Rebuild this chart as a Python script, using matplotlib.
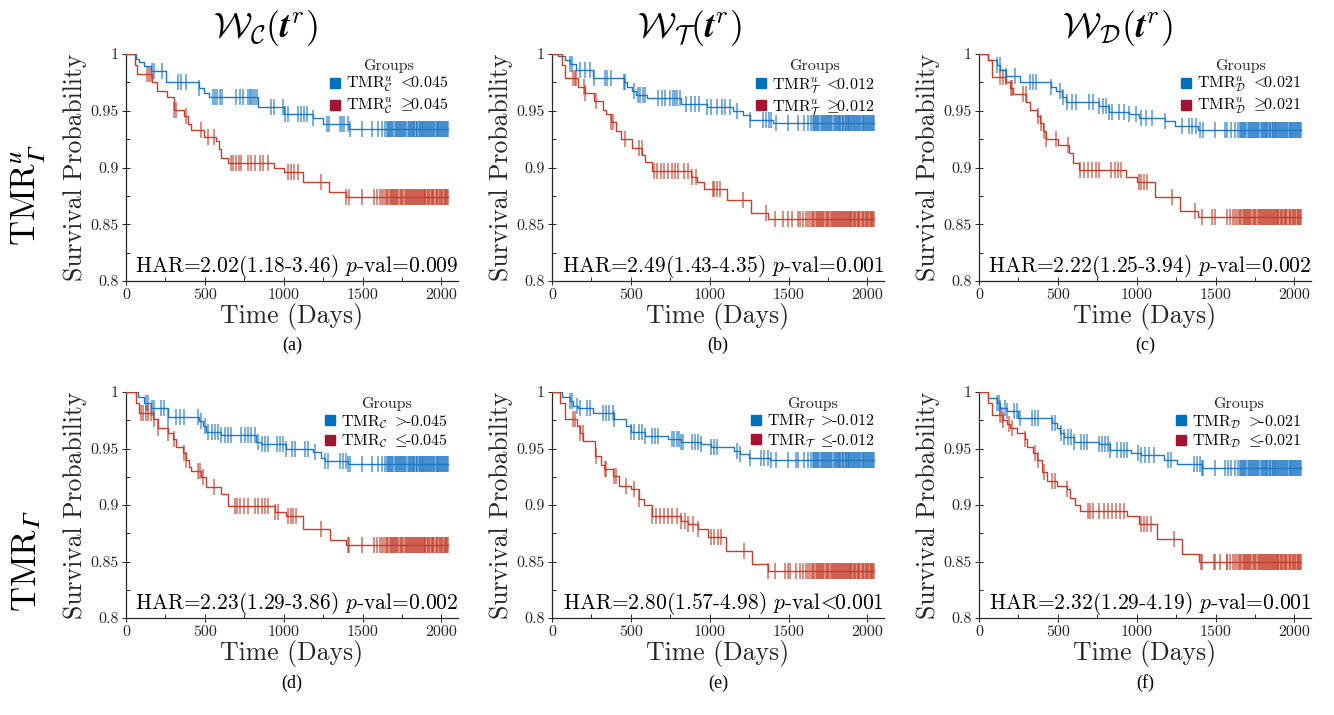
#!/usr/bin/env python3
"""Kaplan-Meier survival curves, 2x3 panels (TMR groups per weighting)."""
import numpy as np
import matplotlib
matplotlib.use("Agg")
import matplotlib.pyplot as plt
from matplotlib.lines import Line2D

plt.rcParams["font.family"] = "cmr10"
plt.rcParams["mathtext.fontset"] = "cm"
plt.rcParams["axes.unicode_minus"] = False
plt.rcParams["axes.formatter.use_mathtext"] = True

# ---- data ----
# late follow-up censoring, common to all panels
TAIL_BLUE = [1423, 1498, 1561, 1597, 1622, 1641, 1652, 1660, 1668, 1676, 1683, 1689, 1696, 1703,
             1712, 1719, 1725, 1731, 1738, 1744, 1752, 1758, 1763, 1771, 1778, 1785, 1794, 1802,
             1809, 1814, 1818, 1824, 1829, 1836, 1842, 1847, 1855, 1861, 1866, 1874, 1879, 1883,
             1889, 1895, 1902, 1908, 1914, 1921, 1927, 1933, 1940, 1946, 1952, 1961, 1969, 1974,
             1978, 1983, 1988, 1996, 2001, 2007, 2015, 2024, 2029, 2033, 2041]
TAIL_RED = [1412, 1495, 1572, 1590, 1611, 1622, 1633, 1648, 1655, 1661, 1672, 1679, 1684, 1693,
            1700, 1706, 1715, 1721, 1727, 1738, 1746, 1751, 1757, 1768, 1774, 1779, 1787, 1793,
            1798, 1806, 1815, 1820, 1824, 1833, 1838, 1842, 1851, 1856, 1862, 1871, 1876, 1880,
            1889, 1894, 1898, 1909, 1917, 1921, 1926, 1937, 1941, 1946, 1955, 1964, 1969, 1973,
            1984, 1992, 1998, 2003, 2011, 2020, 2025, 2029, 2034, 2040]

# (a)
A_BLUE_T = [0, 61, 83, 114, 157, 252, 464, 496, 528, 835, 1004, 1184, 1248, 1417, 2040]
A_BLUE_S = [1, 0.996, 0.993, 0.989, 0.985, 0.975, 0.970, 0.966, 0.962, 0.953, 0.947, 0.944, 0.938, 0.934, 0.934]
A_BLUE_C = [165, 180, 230, 330, 350, 380, 465, 550, 565, 580, 595, 610, 700, 720, 740, 775, 785,
            795, 805, 815, 830, 920, 940, 995, 1005, 1025, 1090, 1110, 1130, 1150, 1185, 1275,
            1290, 1355, 1370, 1385, 1405]
A_RED_T = [0, 55, 72, 167, 199, 263, 305, 369, 390, 411, 496, 570, 590, 602, 644, 941, 1004, 1121, 1290, 1396, 2040]
A_RED_S = [1, 0.99, 0.982, 0.975, 0.967, 0.962, 0.951, 0.945, 0.938, 0.933, 0.927, 0.923, 0.916, 0.908, 0.904,
           0.9, 0.896, 0.887, 0.878, 0.874, 0.874]
A_RED_C = [135, 145, 157, 305, 315, 380, 475, 520, 560, 665, 680, 700, 715, 730, 775, 790, 815, 850,
           870, 900, 1025, 1045, 1065, 1090, 1237, 1396]

# (b)
B_BLUE_T = [0, 41, 83, 114, 155, 259, 456, 477, 508, 530, 601, 819, 985, 1150, 1212, 1254, 1399, 2040]
B_BLUE_S = [1, 0.998, 0.995, 0.991, 0.986, 0.979, 0.975, 0.971, 0.967, 0.964, 0.961, 0.956, 0.953, 0.950,
            0.946, 0.942, 0.939, 0.939]
B_BLUE_C = [114, 124, 180, 210, 238, 269, 335, 350, 373, 458, 466, 520, 545, 560, 575, 590, 675, 700,
            715, 748, 765, 780, 795, 810, 852, 880, 905, 933, 985, 1005, 1048, 1075, 1100, 1130,
            1171, 1254, 1340, 1360, 1375, 1390]
B_RED_T = [0, 62, 83, 166, 207, 269, 321, 340, 373, 404, 435, 508, 570, 591, 632, 881, 922, 964, 1109,
           1264, 1368, 2040]
B_RED_S = [1, 0.99, 0.979, 0.971, 0.966, 0.959, 0.951, 0.947, 0.94, 0.932, 0.925, 0.917, 0.911, 0.905,
           0.897, 0.892, 0.887, 0.881, 0.871, 0.86, 0.855, 0.855]
B_RED_C = [135, 145, 155, 200, 210, 280, 375, 385, 466, 552, 568, 645, 665, 690, 712, 735, 760, 780,
           798, 840, 862, 890, 912, 1018, 1030, 1045, 1067, 1212, 1357, 1465, 1520, 1560]

# (c)
C_BLUE_T = [0, 59, 111, 132, 174, 258, 458, 490, 527, 550, 762, 825, 951, 1014, 1182, 1245, 1391, 2040]
C_BLUE_S = [1, 0.995, 0.99, 0.986, 0.981, 0.975, 0.971, 0.967, 0.962, 0.958, 0.954, 0.949, 0.947, 0.944,
            0.941, 0.937, 0.933, 0.933]
C_BLUE_C = [115, 130, 174, 227, 321, 345, 363, 458, 512, 535, 560, 590, 615, 700, 725, 762, 785, 805,
            825, 846, 890, 920, 951, 995, 1030, 1060, 1098, 1182, 1290, 1330, 1352, 1375, 1402, 1570]
C_RED_T = [0, 59, 80, 174, 195, 216, 300, 321, 365, 384, 405, 425, 499, 573, 594, 636, 930, 1003, 1119,
           1276, 1391, 2040]
C_RED_S = [1, 0.995, 0.98, 0.975, 0.97, 0.965, 0.958, 0.951, 0.945, 0.939, 0.932, 0.925, 0.92, 0.913,
           0.904, 0.898, 0.892, 0.887, 0.874, 0.862, 0.856, 0.856]
C_RED_C = [135, 150, 170, 200, 212, 280, 298, 375, 392, 410, 425, 489, 562, 640, 665, 690, 715, 740,
           762, 838, 860, 880, 898, 1015, 1030, 1048, 1066, 1223, 1370, 1475]

# (d)
D_BLUE_T = [0, 74, 116, 159, 265, 466, 487, 508, 603, 825, 857, 1016, 1185, 1238, 1259, 1407, 2040]
D_BLUE_S = [1, 0.996, 0.99, 0.986, 0.978, 0.974, 0.97, 0.965, 0.962, 0.956, 0.954, 0.95, 0.947, 0.942,
            0.939, 0.936, 0.936]
D_BLUE_C = [127, 138, 162, 178, 225, 243, 268, 320, 345, 370, 458, 476, 500, 519, 545, 565, 582, 605,
            625, 645, 667, 732, 755, 775, 795, 815, 836, 860, 880, 899, 955, 975, 995, 1016, 1050,
            1069, 1135, 1153, 1196, 1262, 1280, 1358, 1375, 1392, 1407]
D_RED_T = [0, 63, 85, 169, 201, 265, 296, 317, 360, 381, 402, 413, 476, 508, 603, 646, 942, 1016, 1122,
           1291, 1397, 2040]
D_RED_S = [1, 0.99, 0.981, 0.976, 0.968, 0.964, 0.958, 0.951, 0.946, 0.94, 0.934, 0.93, 0.925, 0.916,
           0.91, 0.899, 0.894, 0.89, 0.879, 0.869, 0.865, 0.865]
D_RED_C = [95, 110, 125, 140, 159, 180, 201, 265, 307, 370, 381, 455, 470, 487, 561, 690, 705, 725,
           745, 772, 815, 835, 860, 880, 899, 942, 963, 1028, 1045, 1062, 1079, 1238, 1407]

# (e)
E_BLUE_T = [0, 62, 114, 135, 166, 260, 395, 467, 498, 592, 737, 820, 945, 1007, 1153, 1194, 1246, 1381, 2040]
E_BLUE_S = [1, 0.996, 0.992, 0.988, 0.986, 0.981, 0.976, 0.97, 0.965, 0.961, 0.958, 0.956, 0.954, 0.951,
            0.948, 0.945, 0.942, 0.94, 0.94]
E_BLUE_C = [114, 125, 158, 175, 220, 238, 325, 345, 363, 386, 395, 500, 518, 552, 572, 592, 635, 655,
            675, 760, 775, 790, 805, 820, 831, 885, 905, 925, 945, 1009, 1030, 1049, 1175, 1194,
            1256, 1322, 1345, 1368, 1391, 1547]
E_RED_T = [0, 52, 83, 156, 177, 197, 270, 312, 332, 384, 426, 498, 550, 582, 633, 820, 862, 924, 987,
           1101, 1267, 1371, 2040]
E_RED_S = [1, 0.99, 0.976, 0.97, 0.964, 0.957, 0.943, 0.935, 0.932, 0.926, 0.917, 0.914, 0.905, 0.9,
           0.89, 0.886, 0.883, 0.879, 0.872, 0.859, 0.848, 0.842, 0.842]
E_RED_C = [135, 145, 180, 195, 280, 335, 343, 395, 405, 467, 519, 550, 635, 660, 685, 710, 735, 760,
           790, 820, 843, 865, 895, 924, 1009, 1030, 1050, 1070, 1215, 1371, 1475, 1510, 1545]

# (f)
F_BLUE_T = [0, 59, 112, 134, 176, 250, 462, 494, 515, 536, 600, 759, 833, 961, 1024, 1173, 1258, 1417, 2040]
F_BLUE_S = [1, 0.995, 0.99, 0.986, 0.983, 0.977, 0.973, 0.968, 0.964, 0.96, 0.956, 0.954, 0.949, 0.946,
            0.944, 0.94, 0.936, 0.933, 0.933]
F_BLUE_C = [112, 125, 134, 165, 176, 220, 240, 261, 338, 355, 377, 462, 484, 518, 540, 565, 585, 600,
            645, 665, 685, 762, 780, 800, 815, 833, 878, 900, 920, 940, 1005, 1030, 1055, 1080,
            1109, 1196, 1215, 1366, 1385, 1400, 1417, 1576]
F_RED_T = [0, 59, 81, 155, 176, 197, 240, 293, 303, 340, 367, 399, 430, 494, 558, 579, 611, 643, 940,
           1014, 1130, 1290, 1396, 2040]
F_RED_S = [1, 0.99, 0.98, 0.975, 0.972, 0.968, 0.964, 0.958, 0.951, 0.946, 0.94, 0.929, 0.921, 0.917,
           0.914, 0.906, 0.9, 0.895, 0.89, 0.883, 0.87, 0.857, 0.85, 0.85]
F_RED_C = [134, 145, 155, 190, 208, 293, 358, 377, 409, 462, 484, 558, 688, 705, 725, 760, 790, 820,
           845, 870, 895, 918, 1025, 1045, 1068, 1088, 1236, 1406, 1491, 1530, 1570]

SUBSETS = [r"\mathcal{C}", r"\mathcal{T}", r"\mathcal{D}"]
THRESH = ["0.045", "0.012", "0.021"]
HAR_TEXT = [
    r"HAR=2.02(1.18-3.46) $p$-val=0.009",
    r"HAR=2.49(1.43-4.35) $p$-val=0.001",
    r"HAR=2.22(1.25-3.94) $p$-val=0.002",
    r"HAR=2.23(1.29-3.86) $p$-val=0.002",
    r"HAR=2.80(1.57-4.98) $p$-val$\!<\!\!$0.001",
    r"HAR=2.32(1.29-4.19) $p$-val=0.001",
]
PANEL_TAGS = ["(a)", "(b)", "(c)", "(d)", "(e)", "(f)"]

CURVES = [
    (A_BLUE_T, A_BLUE_S, A_BLUE_C, A_RED_T, A_RED_S, A_RED_C),
    (B_BLUE_T, B_BLUE_S, B_BLUE_C, B_RED_T, B_RED_S, B_RED_C),
    (C_BLUE_T, C_BLUE_S, C_BLUE_C, C_RED_T, C_RED_S, C_RED_C),
    (D_BLUE_T, D_BLUE_S, D_BLUE_C, D_RED_T, D_RED_S, D_RED_C),
    (E_BLUE_T, E_BLUE_S, E_BLUE_C, E_RED_T, E_RED_S, E_RED_C),
    (F_BLUE_T, F_BLUE_S, F_BLUE_C, F_RED_T, F_RED_S, F_RED_C),
]

BLUE_LINE = "#1f78c6"
RED_LINE = "#c4402c"
BLUE_MARK = "#0072BD"
RED_MARK = "#A2142F"
AX_COL = "#262626"


def step_value(t, s, x):
    idx = np.searchsorted(np.asarray(t), np.asarray(x), side="right") - 1
    return np.asarray(s)[idx]


def km(ax, t, s, cens, color):
    ax.step(t, s, where="post", color=color, lw=1.0, zorder=3)
    cy = step_value(t, s, cens)
    ax.plot(cens, cy, ls="none", marker="|", ms=11, mew=1.2, color=color, alpha=0.7, zorder=2)


fig = plt.figure(figsize=(13.34, 7.15), dpi=100)
W, H = 1334, 715
col_left = [126, 552, 979]
ax_w = 332
rows = [(54, 281), (392, 618)]

for i in range(6):
    r, c = divmod(i, 3)
    top, bot = rows[r]
    ax = fig.add_axes([col_left[c] / W, 1 - bot / H, ax_w / W, (bot - top) / H])
    bt, bs, bc, rt, rs, rc = CURVES[i]
    km(ax, bt, bs, bc + TAIL_BLUE, BLUE_LINE)
    km(ax, rt, rs, rc + TAIL_RED, RED_LINE)

    ax.set_xlim(0, 2105)
    ax.set_ylim(0.8, 1.0)
    ax.set_xticks([0, 500, 1000, 1500, 2000])
    ax.set_xticks([250, 750, 1250, 1750], minor=True)
    ax.set_xticklabels(["0", "500", "1000", "1500", "2000"])
    ax.set_yticks([0.8, 0.85, 0.9, 0.95, 1.0])
    ax.set_yticks([0.825, 0.875, 0.925, 0.975], minor=True)
    ax.set_yticklabels(["0.8", "0.85", "0.9", "0.95", "1"])
    ax.tick_params(which="major", direction="inout", length=6, width=0.7, colors=AX_COL,
                   labelsize=11.5, pad=2)
    ax.tick_params(which="minor", direction="in", length=3, width=0.7, colors=AX_COL)
    for side in ["top", "right"]:
        ax.spines[side].set_visible(False)
    for side in ["left", "bottom"]:
        ax.spines[side].set_color(AX_COL)
        ax.spines[side].set_linewidth(0.9)

    ax.set_xlabel("Time (Days)", fontsize=18.5, color=AX_COL, labelpad=1)
    ax.set_ylabel("Survival Probability", fontsize=18.5, color=AX_COL, labelpad=3)

    ax.text(0.515, 0.006, HAR_TEXT[i], transform=ax.transAxes, ha="center", va="bottom",
            fontsize=15.5, color="black", zorder=5)

    sub = SUBSETS[c]
    th = THRESH[c]
    if r == 0:
        labels = [r"TMR$^{u}_{%s}$ $<\!\!$%s" % (sub, th), r"TMR$^{u}_{%s}$ $\geq\!\!$%s" % (sub, th)]
    else:
        labels = [r"TMR$_{%s}$ $>\!\!$-%s" % (sub, th), r"TMR$_{%s}$ $\leq\!\!$-%s" % (sub, th)]
    handles = [Line2D([], [], ls="none", marker="s", ms=6.5, color=BLUE_MARK),
               Line2D([], [], ls="none", marker="s", ms=6.5, color=RED_MARK)]
    leg = ax.legend(handles, labels, title="Groups", loc="upper right", bbox_to_anchor=(1.0, 1.02),
                    frameon=False, fontsize=11.5, title_fontsize=11.5, handlelength=0.7,
                    handletextpad=0.35, borderaxespad=0.2, labelspacing=0.12)
    leg.get_title().set_color(AX_COL)

    # panel tag under each axes
    tag_y = 345 if r == 0 else 683
    fig.text((col_left[c] + ax_w / 2) / W, 1 - tag_y / H, PANEL_TAGS[i], ha="center", va="center",
             fontsize=13, family="Liberation Serif")

# column titles
title_x = [265, 690, 1117]
for c in range(3):
    fig.text(title_x[c] / W, 1 - 28 / H, r"$\mathcal{W}_{%s}(\mathbfit{t}^{r})$" % SUBSETS[c],
             ha="center", va="center", fontsize=26)

# row labels (math italic capital Gamma from the STIX math font)
fig.text(0.022, 1 - 195 / H, "TMR$^{u}_{\U0001D6E4}$", rotation=90, ha="center", va="center",
         fontsize=25, math_fontfamily="stix")
fig.text(0.020, 1 - 561 / H, "TMR$_{\U0001D6E4}$", rotation=90, ha="center", va="center",
         fontsize=25, math_fontfamily="stix")

fig.savefig("out.png", dpi=100)
